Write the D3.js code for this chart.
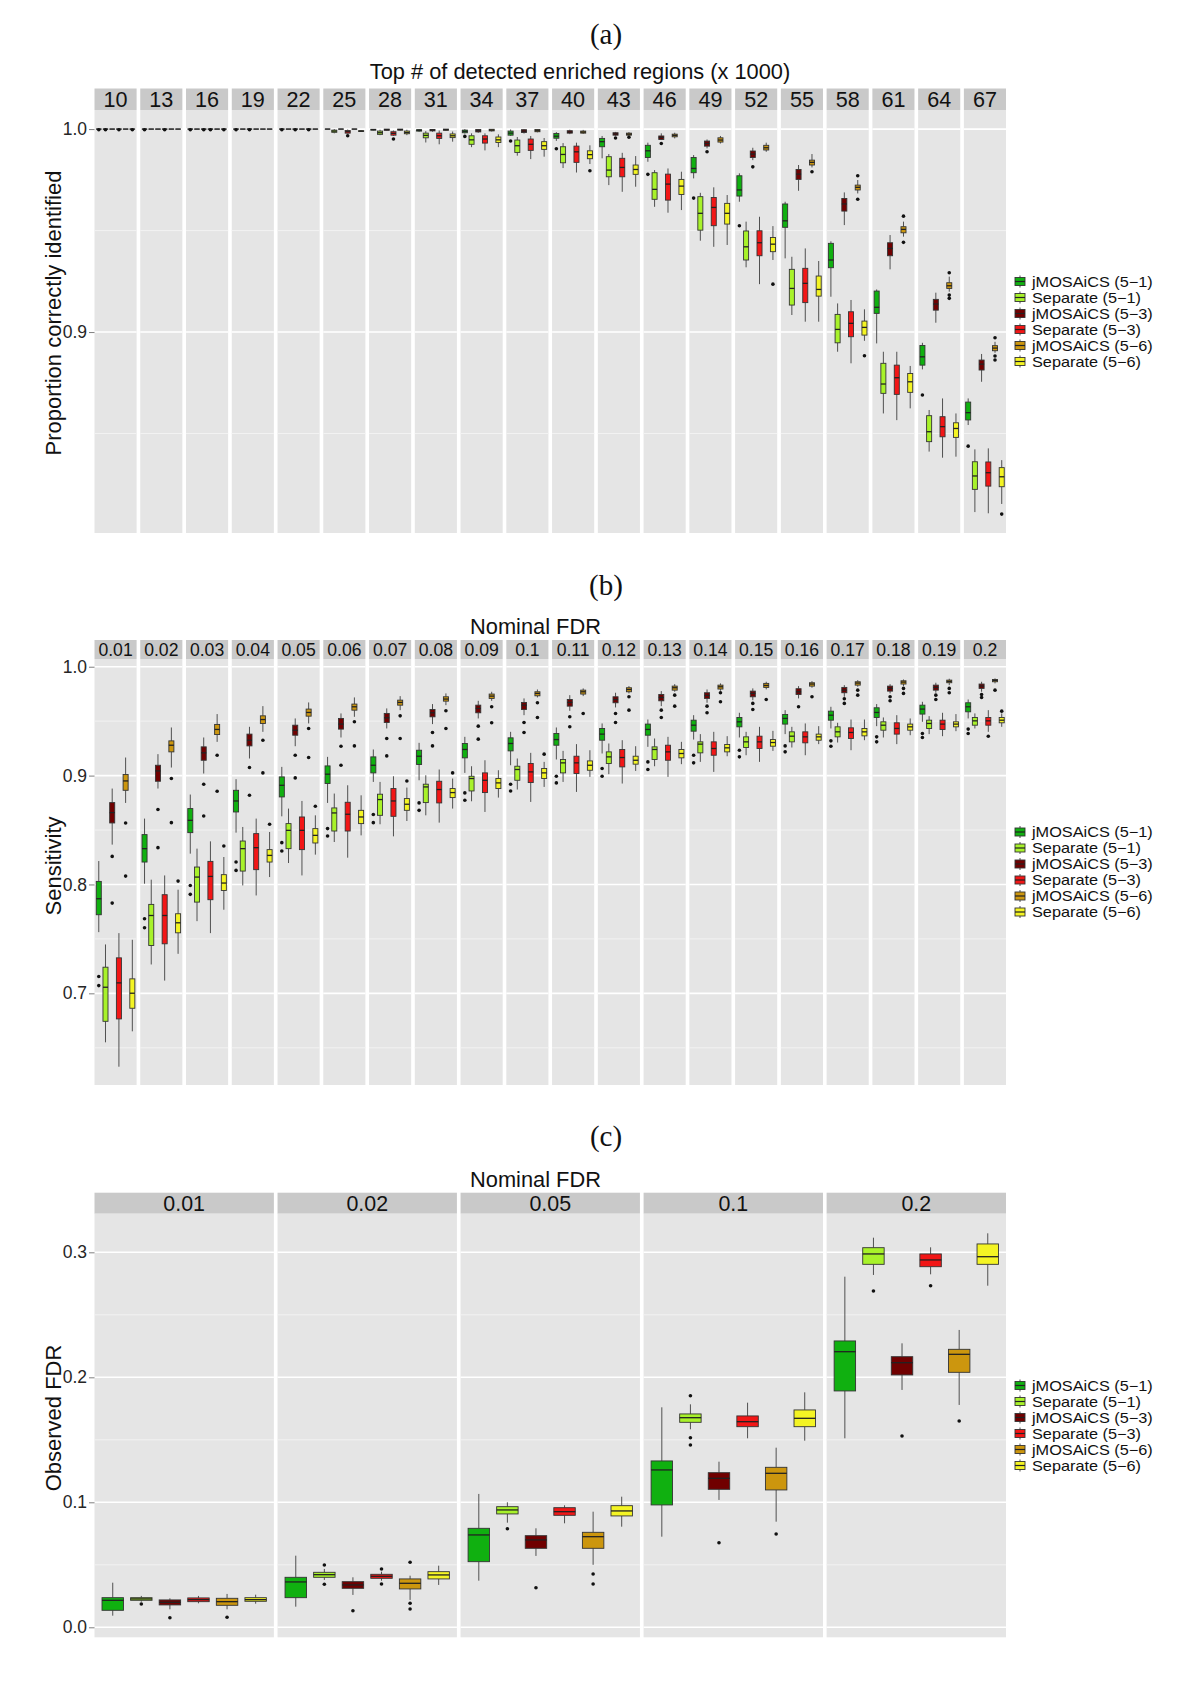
<!DOCTYPE html>
<html><head><meta charset="utf-8">
<script src="https://cdn.jsdelivr.net/npm/d3@7"></script>
<style>
body{margin:0;background:#fff}
svg text{font-family:"Liberation Sans",Arial,Helvetica,sans-serif}
</style>
</head><body>
<svg id="chart" width="1200" height="1705"></svg>
<script>
// ---------------- DATA ----------------
const seriesNames = ["jMOSAiCS (5\u22121)", "Separate (5\u22121)", "jMOSAiCS (5\u22123)", "Separate (5\u22123)", "jMOSAiCS (5\u22126)", "Separate (5\u22126)"];
const seriesColors = ["#10B010", "#A8F22A", "#700000", "#F21616", "#CC960E", "#F4F424"];

// each box: [lowerWhisker, q1, median, q3, upperWhisker, ...outliers]
const topFacets = ["10","13","16","19","22","25","28","31","34","37","40","43","46","49","52","55","58","61","64","67"];
const topA_jm51 = [[1,1,1,1,1,0.9997],[1,1,1,1,1,0.9997],[1,1,1,1,1,0.9997],[1,1,1,1,1,0.9997],[1,1,1,1,1,0.9997],[1,1,1,1,1],
  [0.9993,0.9995,0.9997,0.9999,1],[0.9986,0.9990,0.9994,0.9997,1],[0.9978,0.9982,0.9989,0.9995,1,0.9964],[0.9966,0.9970,0.9980,0.9990,0.9998,0.9941],
  [0.9942,0.9955,0.9965,0.9978,0.9985,0.9903],[0.9856,0.9913,0.9938,0.9954,0.9966],[0.9839,0.9860,0.9893,0.9920,0.9933,0.9777],[0.9757,0.9785,0.9806,0.9860,0.9872,0.9660],
  [0.9642,0.9670,0.9700,0.9770,0.9782,0.9524],[0.9363,0.9516,0.9548,0.9631,0.9642],[0.9174,0.9317,0.9355,0.9437,0.9447],[0.8944,0.9092,0.9122,0.9202,0.9210],
  [0.8816,0.8837,0.8878,0.8934,0.8947,0.8690],[0.8542,0.8567,0.8603,0.8655,0.8673,0.8438]];
const topA_sep51 = [[1,1,1,1,1,0.9997],[1,1,1,1,1],[1,1,1,1,1],[1,1,1,1,1],[1,1,1,1,1],[0.9979,0.9984,0.9990,0.9995,1],
  [0.9970,0.9974,0.9982,0.9990,0.9997],[0.9934,0.9957,0.9969,0.9980,0.9990],[0.9911,0.9925,0.9947,0.9967,0.9979],[0.9869,0.9885,0.9918,0.9946,0.9961],
  [0.9808,0.9834,0.9875,0.9913,0.9931],[0.9724,0.9765,0.9798,0.9864,0.9877],[0.9617,0.9654,0.9703,0.9785,0.9798],[0.9450,0.9502,0.9585,0.9667,0.9686],
  [0.9319,0.9355,0.9420,0.9498,0.9544],[0.9084,0.9133,0.9215,0.9309,0.9371],[0.8903,0.8947,0.9013,0.9087,0.9141],[0.8599,0.8698,0.8744,0.8846,0.8903],
  [0.8411,0.8460,0.8509,0.8588,0.8616],[0.8113,0.8225,0.8291,0.8361,0.8422]];
const topA_jm53 = [[1,1,1,1,1],[1,1,1,1,1],[1,1,1,1,1,0.9997],[1,1,1,1,1,0.9997],[1,1,1,1,1,0.9997],[1,1,1,1,1],
  [0.9992,0.9994,0.9997,1,1],[0.9987,0.9991,0.9995,0.9998,1],[0.9982,0.9986,0.9992,0.9998,1],[0.9978,0.9983,0.9990,0.9997,1],
  [0.9975,0.9980,0.9985,0.9992,0.9997],[0.9966,0.9970,0.9976,0.9982,0.9986,0.9956],[0.9946,0.9949,0.9959,0.9966,0.9979,0.9929],[0.9905,0.9916,0.9929,0.9941,0.9949,0.9888],
  [0.9847,0.9860,0.9877,0.9892,0.9908,0.9814],[0.9696,0.9752,0.9778,0.9801,0.9823],[0.9527,0.9596,0.9631,0.9658,0.9688],[0.9309,0.9376,0.9412,0.9440,0.9478],
  [0.9046,0.9108,0.9138,0.9161,0.9194],[0.8755,0.8813,0.8842,0.8862,0.8892]];
const topA_sep53 = [[1,1,1,1,1,0.9997],[1,1,1,1,1,0.9997],[1,1,1,1,1,0.9997],[1,1,1,1,1],[1,1,1,1,1],[0.9978,0.9980,0.9987,0.9993,0.9998,0.9967],
  [0.9966,0.9970,0.9979,0.9987,0.9993,0.9951],[0.9925,0.9954,0.9967,0.9980,0.9993],[0.9895,0.9931,0.9951,0.9967,0.9979],[0.9852,0.9895,0.9925,0.9951,0.9966],
  [0.9786,0.9836,0.9888,0.9916,0.9933],[0.9691,0.9765,0.9811,0.9856,0.9883],[0.9588,0.9650,0.9729,0.9778,0.9806],[0.9420,0.9524,0.9614,0.9663,0.9713],
  [0.9236,0.9376,0.9440,0.9499,0.9568],[0.9051,0.9145,0.9240,0.9314,0.9412],[0.8846,0.8977,0.9043,0.9100,0.9158],[0.8566,0.8693,0.8775,0.8837,0.8903],
  [0.8381,0.8484,0.8534,0.8583,0.8673],[0.8107,0.8241,0.8307,0.8360,0.8427]];
const topA_jm56 = [[1,1,1,1,1],[1,1,1,1,1],[1,1,1,1,1],[1,1,1,1,1],[1,1,1,1,1,0.9997],[1,1,1,1,1],
  [0.9993,0.9995,0.9997,1,1],[0.9991,0.9994,0.9997,1,1],[0.9988,0.9991,0.9995,0.9999,1],[0.9984,0.9987,0.9992,0.9998,1],
  [0.9976,0.9980,0.9985,0.9990,0.9996],[0.9966,0.9970,0.9975,0.9980,0.9985,0.9960],[0.9954,0.9962,0.9969,0.9975,0.9982],[0.9929,0.9936,0.9946,0.9957,0.9966],
  [0.9888,0.9897,0.9908,0.9920,0.9933],[0.9811,0.9823,0.9836,0.9847,0.9877,0.9790],[0.9683,0.9700,0.9713,0.9724,0.9749,0.9770,0.9654],[0.9470,0.9489,0.9506,0.9519,0.9544,0.9571,0.9442],
  [0.9199,0.9215,0.9228,0.9243,0.9273,0.9292,0.9182,0.9166],[0.8898,0.8908,0.8921,0.8933,0.8952,0.8972,0.8882,0.8862]];
const topA_sep56 = [[1,1,1,1,1,0.9997],[1,1,1,1,1],[1,1,1,1,1,0.9997],[1,1,1,1,1],[1,1,1,1,1],[0.9986,0.9988,0.9990,0.9992,0.9995],
  [0.9970,0.9977,0.9983,0.9990,0.9997],[0.9938,0.9958,0.9967,0.9976,0.9988],[0.9911,0.9934,0.9947,0.9961,0.9974],[0.9864,0.9900,0.9918,0.9938,0.9956],
  [0.9828,0.9854,0.9874,0.9893,0.9920,0.9795],[0.9716,0.9777,0.9801,0.9823,0.9867],[0.9601,0.9678,0.9719,0.9752,0.9790],[0.9429,0.9532,0.9585,0.9634,0.9675],
  [0.9355,0.9396,0.9433,0.9466,0.9522,0.9236],[0.9051,0.9177,0.9210,0.9276,0.9350],[0.8957,0.8985,0.9023,0.9054,0.9112,0.8883],[0.8624,0.8703,0.8755,0.8796,0.8833],
  [0.8386,0.8481,0.8525,0.8553,0.8599],[0.8153,0.8238,0.8287,0.8332,0.8369,0.8103]];

const fdrFacets = ["0.01","0.02","0.03","0.04","0.05","0.06","0.07","0.08","0.09","0.1","0.11","0.12","0.13","0.14","0.15","0.16","0.17","0.18","0.19","0.2"];
const sensB_jm51 = [[0.7562,0.7722,0.7869,0.8028,0.8215,0.7154,0.7071],[0.8007,0.8206,0.8329,0.8458,0.8605,0.7685,0.7602],[0.8283,0.8476,0.8589,0.8697,0.8826,0.7991,0.7909],
  [0.8476,0.8666,0.8767,0.8865,0.8967,0.8206,0.8129],[0.8626,0.8804,0.8911,0.8988,0.9080,0.8384,0.8307],[0.8749,0.8927,0.9013,0.9089,0.9172,0.8513,0.8445],
  [0.8942,0.9025,0.9095,0.9172,0.9240,0.8642,0.8568],[0.8957,0.9102,0.9178,0.9233,0.9301,0.8749,0.8681],[0.9025,0.9163,0.9240,0.9295,0.9356,0.8841,0.8773],
  [0.9095,0.9227,0.9295,0.9347,0.9402,0.8921,0.8859],[0.9148,0.9279,0.9331,0.9387,0.9442,0.8994,0.8933],[0.9203,0.9325,0.9381,0.9433,0.9479,0.9065,0.8994],
  [0.9264,0.9371,0.9424,0.9473,0.9515,0.9126,0.9056],[0.9331,0.9408,0.9463,0.9509,0.9555,0.9187,0.9117],[0.9350,0.9448,0.9494,0.9534,0.9577,0.9233,0.9172],
  [0.9381,0.9473,0.9525,0.9561,0.9601,0.9273,0.9218],[0.9433,0.9509,0.9555,0.9592,0.9632,0.9319,0.9270],[0.9454,0.9534,0.9580,0.9623,0.9657,0.9356,0.9310],
  [0.9494,0.9565,0.9611,0.9647,0.9678,0.9387,0.9350],[0.9525,0.9586,0.9632,0.9669,0.9699,0.9427,0.9387]];
const sensB_sep51 = [[0.6550,0.6743,0.7056,0.7240,0.7449],[0.7265,0.7439,0.7715,0.7817,0.8044],[0.7663,0.7838,0.8068,0.8160,0.8329],
  [0.7991,0.8123,0.8329,0.8399,0.8528],[0.8197,0.8329,0.8497,0.8559,0.8697],[0.8390,0.8491,0.8657,0.8703,0.8835],
  [0.8553,0.8635,0.8780,0.8829,0.8942],[0.8635,0.8752,0.8896,0.8921,0.9003],[0.8764,0.8859,0.8973,0.8994,0.9086],
  [0.8872,0.8957,0.9056,0.9086,0.9157],[0.8942,0.9025,0.9117,0.9148,0.9227],[0.9013,0.9111,0.9172,0.9218,0.9295],
  [0.9086,0.9148,0.9240,0.9264,0.9341],[0.9126,0.9209,0.9289,0.9310,0.9381],[0.9187,0.9258,0.9310,0.9356,0.9402],
  [0.9258,0.9310,0.9362,0.9402,0.9448],[0.9304,0.9356,0.9402,0.9448,0.9485],[0.9350,0.9417,0.9463,0.9494,0.9534],
  [0.9381,0.9433,0.9479,0.9509,0.9546],[0.9433,0.9463,0.9503,0.9534,0.9571]];
const sensB_jm53 = [[0.8366,0.8565,0.8660,0.8752,0.8881,0.8258,0.7829],[0.8881,0.8948,0.9043,0.9095,0.9197,0.8688,0.8338],[0.9019,0.9141,0.9209,0.9264,0.9350,0.8921,0.8629],
  [0.9157,0.9273,0.9325,0.9381,0.9448,0.9074,0.8819],[0.9270,0.9371,0.9417,0.9463,0.9525,0.9187,0.8979],[0.9350,0.9427,0.9473,0.9525,0.9571,0.9270,0.9095],
  [0.9433,0.9488,0.9531,0.9571,0.9617,0.9341,0.9181],[0.9473,0.9540,0.9577,0.9607,0.9657,0.9396,0.9273],[0.9525,0.9577,0.9617,0.9647,0.9687,0.9454,0.9335],
  [0.9555,0.9607,0.9647,0.9672,0.9709,0.9488,0.9396],[0.9595,0.9638,0.9672,0.9699,0.9739,0.9540,0.9448],[0.9626,0.9669,0.9699,0.9724,0.9761,0.9571,0.9488],
  [0.9638,0.9687,0.9718,0.9745,0.9776,0.9601,0.9534],[0.9669,0.9709,0.9736,0.9761,0.9791,0.9638,0.9577],[0.9693,0.9724,0.9755,0.9776,0.9801,0.9663,0.9607],
  [0.9709,0.9745,0.9770,0.9798,0.9822,0.9632],[0.9724,0.9761,0.9785,0.9810,0.9831,0.9706,0.9663],[0.9755,0.9776,0.9801,0.9822,0.9840,0.9724,0.9687],
  [0.9761,0.9785,0.9810,0.9831,0.9853,0.9739,0.9699],[0.9770,0.9801,0.9822,0.9841,0.9862,0.9745,0.9718]];
const sensB_sep53 = [[0.6326,0.6765,0.7096,0.7326,0.7553],[0.7117,0.7455,0.7715,0.7906,0.8083],[0.7553,0.7860,0.8074,0.8212,0.8396],
  [0.7899,0.8136,0.8338,0.8467,0.8605],[0.8083,0.8320,0.8497,0.8620,0.8767],[0.8246,0.8491,0.8645,0.8755,0.8911],
  [0.8442,0.8626,0.8767,0.8881,0.8994],[0.8568,0.8749,0.8872,0.8948,0.9056],[0.8666,0.8844,0.8957,0.9025,0.9141],
  [0.8758,0.8936,0.9034,0.9111,0.9209],[0.8850,0.9019,0.9117,0.9178,0.9289],[0.8927,0.9080,0.9166,0.9240,0.9325],
  [0.8988,0.9141,0.9218,0.9279,0.9356],[0.9034,0.9187,0.9249,0.9310,0.9402],[0.9126,0.9249,0.9310,0.9362,0.9448],
  [0.9187,0.9301,0.9356,0.9402,0.9479],[0.9233,0.9341,0.9396,0.9439,0.9515],[0.9289,0.9381,0.9433,0.9485,0.9555],
  [0.9362,0.9423,0.9473,0.9509,0.9577],[0.9402,0.9463,0.9503,0.9534,0.9601,0.9362]];
const sensB_jm56 = [[0.8749,0.8865,0.8951,0.9010,0.9166,0.8565,0.8077],[0.9074,0.9218,0.9279,0.9319,0.9442,0.8973,0.8568],[0.9310,0.9377,0.9424,0.9470,0.9565,0.9187,0.8856],
  [0.9402,0.9479,0.9515,0.9549,0.9638,0.9325,0.9025],[0.9479,0.9546,0.9580,0.9611,0.9672,0.9433,0.9166],[0.9540,0.9601,0.9632,0.9657,0.9718,0.9494,0.9273],
  [0.9601,0.9647,0.9672,0.9693,0.9730,0.9549,0.9341],[0.9647,0.9684,0.9703,0.9724,0.9755,0.9595,0.9433],[0.9687,0.9709,0.9730,0.9749,0.9770,0.9632,0.9485],
  [0.9718,0.9733,0.9755,0.9770,0.9791,0.9669,0.9534],[0.9730,0.9749,0.9770,0.9785,0.9801,0.9571],[0.9755,0.9770,0.9791,0.9807,0.9822,0.9724,0.9601],
  [0.9770,0.9785,0.9807,0.9822,0.9840,0.9739,0.9638],[0.9779,0.9795,0.9816,0.9831,0.9847,0.9761,0.9678],[0.9792,0.9810,0.9828,0.9847,0.9862,0.9699],
  [0.9807,0.9822,0.9841,0.9853,0.9868,0.9724],[0.9816,0.9831,0.9850,0.9862,0.9877,0.9785,0.9739],[0.9822,0.9841,0.9859,0.9871,0.9883,0.9801,0.9755],
  [0.9831,0.9853,0.9865,0.9877,0.9890,0.9801,0.9761],[0.9847,0.9862,0.9874,0.9883,0.9893,0.9785]];
const sensB_sep56 = [[0.6651,0.6863,0.7001,0.7133,0.7492],[0.7363,0.7556,0.7648,0.7731,0.7952,0.8031],[0.7768,0.7945,0.8013,0.8090,0.8252,0.8353],
  [0.8068,0.8206,0.8267,0.8320,0.8482,0.8553],[0.8274,0.8381,0.8451,0.8513,0.8635,0.8718],[0.8451,0.8559,0.8620,0.8681,0.8819],
  [0.8583,0.8681,0.8737,0.8789,0.8890,0.8951],[0.8697,0.8798,0.8844,0.8881,0.8973,0.9025],[0.8798,0.8881,0.8933,0.8973,0.9049],
  [0.8896,0.8973,0.9025,0.9065,0.9126,0.9197],[0.8988,0.9049,0.9095,0.9135,0.9233],[0.9043,0.9105,0.9141,0.9178,0.9270],
  [0.9105,0.9163,0.9203,0.9240,0.9310],[0.9178,0.9218,0.9255,0.9286,0.9362],[0.9227,0.9270,0.9304,0.9331,0.9411],
  [0.9289,0.9325,0.9356,0.9381,0.9454],[0.9325,0.9365,0.9402,0.9433,0.9515],[0.9371,0.9417,0.9448,0.9473,0.9525],
  [0.9408,0.9448,0.9473,0.9494,0.9565],[0.9448,0.9485,0.9509,0.9534,0.9571,0.9592]];

const nominalFacets = ["0.01","0.02","0.05","0.1","0.2"];
const fdrC_jm51 = [[0.0093,0.0136,0.0216,0.0237,0.0357],[0.0165,0.0237,0.0363,0.0400,0.0573],[0.0373,0.0525,0.0739,0.0792,0.1067],[0.0725,0.0979,0.1259,0.1331,0.1760],[0.1512,0.1891,0.2205,0.2291,0.2805]];
const fdrC_sep51 = [[0.0205,0.0216,0.0227,0.0237,0.0251,0.0187],[0.0379,0.0400,0.0421,0.0440,0.0467,0.0499,0.0344],[0.0837,0.0907,0.0939,0.0965,0.1000,0.0789],[0.1584,0.1640,0.1677,0.1707,0.1784,0.1853,0.1517,0.1459],[0.2819,0.2904,0.2987,0.3037,0.3117,0.2691]];
const fdrC_jm53 = [[0.0144,0.0179,0.0200,0.0219,0.0232,0.0077],[0.0259,0.0312,0.0339,0.0365,0.0400,0.0133],[0.0571,0.0632,0.0699,0.0733,0.0792,0.0317],[0.1019,0.1104,0.1192,0.1237,0.1325,0.0677],[0.1899,0.2019,0.2117,0.2165,0.2272,0.1531]];
const fdrC_sep53 = [[0.0192,0.0205,0.0221,0.0235,0.0251],[0.0373,0.0392,0.0408,0.0424,0.0445,0.0467,0.0347],[0.0832,0.0896,0.0925,0.0957,0.0976],[0.1512,0.1605,0.1645,0.1691,0.1797],[0.2824,0.2885,0.2939,0.2987,0.3040,0.2733]];
const fdrC_jm56 = [[0.0144,0.0176,0.0205,0.0232,0.0267,0.0080],[0.0219,0.0307,0.0352,0.0387,0.0413,0.0520,0.0192,0.0147],[0.0500,0.0632,0.0725,0.0760,0.0925,0.0427,0.0347],[0.0845,0.1099,0.1232,0.1280,0.1437,0.0747],[0.1779,0.2040,0.2184,0.2224,0.2379,0.1651]];
const fdrC_sep56 = [[0.0189,0.0208,0.0221,0.0237,0.0261],[0.0339,0.0387,0.0419,0.0445,0.0493],[0.0805,0.0891,0.0931,0.0973,0.1045],[0.1493,0.1605,0.1672,0.1739,0.1880],[0.2733,0.2904,0.2965,0.3067,0.3152]];

const ticksA = [0.9, 1.0], minorA = [0.85, 0.95];
const ticksB = [0.7, 0.8, 0.9, 1.0], minorB = [0.65, 0.75, 0.85, 0.95];
const ticksC = [0.0, 0.1, 0.2, 0.3], minorC = [0.05, 0.15, 0.25];

// ---------------- LAYOUT ----------------
const svg = d3.select("#chart");
const PL = 94.5, PR = 1006, GAP = 3.65;

const panels = [
  {tag:"(a)", tagY:44, title:"Top # of detected enriched regions (x 1000)", titleX:580, titleY:78.5,
   stripTop:88.5, top:110, bottom:533, domain:[0.801,1.0094], stripFont:21.6,
   yTitle:"Proportion correctly identified", yTitleY:313,
   facets:topFacets, series:[topA_jm51,topA_sep51,topA_jm53,topA_sep53,topA_jm56,topA_sep56], ticks:ticksA, minor:minorA},
  {tag:"(b)", tagY:595, title:"Nominal FDR", titleX:535.5, titleY:633.5,
   stripTop:640, top:659, bottom:1085, domain:[0.6158,1.0071], stripFont:17.6,
   yTitle:"Sensitivity", yTitleY:866,
   facets:fdrFacets, series:[sensB_jm51,sensB_sep51,sensB_jm53,sensB_sep53,sensB_jm56,sensB_sep56], ticks:ticksB, minor:minorB},
  {tag:"(c)", tagY:1146, title:"Nominal FDR", titleX:535.5, titleY:1186.5,
   stripTop:1192.7, top:1213.7, bottom:1637.3, domain:[-0.008,0.3309], stripFont:21.4,
   yTitle:"Observed FDR", yTitleY:1418,
   facets:nominalFacets, series:[fdrC_jm51,fdrC_sep51,fdrC_jm53,fdrC_sep53,fdrC_jm56,fdrC_sep56], ticks:ticksC, minor:minorC}
];

panels.forEach(P => {
  const g = svg.append("g");
  const n = P.facets.length;
  const fx = d3.scaleBand().domain(P.facets).range([PL, PR]).paddingInner(GAP*n/(PR-PL+GAP)).paddingOuter(0);
  const w = fx.bandwidth();
  const sx = d3.scaleBand().domain(d3.range(6)).range([0.022*w, 0.978*w]).paddingInner(0.25).paddingOuter(0.125);
  const bw = sx.bandwidth();
  const y = d3.scaleLinear().domain(P.domain).range([P.bottom, P.top]);

  g.append("text").attr("x", 606).attr("y", P.tagY).attr("text-anchor","middle")
    .style("font-family",'"Liberation Serif","DejaVu Serif",serif').style("font-size","29px").attr("fill","#111").text(P.tag);
  g.append("text").attr("x", P.titleX).attr("y", P.titleY).attr("text-anchor","middle")
    .style("font-size","21.8px").attr("fill","#111").text(P.title);
  g.append("text").attr("transform", `translate(53.5,${P.yTitleY}) rotate(-90)`).attr("text-anchor","middle")
    .attr("dy","0.35em").style("font-size","22px").attr("fill","#111").text(P.yTitle);

  const facetG = g.selectAll("g.facet").data(P.facets).join("g").attr("class","facet")
    .attr("transform", d => `translate(${fx(d)},0)`);
  facetG.append("rect").attr("x",0).attr("y",P.stripTop).attr("width",w).attr("height",P.top-P.stripTop).attr("fill","#C9C9C9");
  facetG.append("text").attr("x",w/2).attr("y",(P.stripTop+P.top)/2 + 0.36*P.stripFont).attr("text-anchor","middle")
    .style("font-size",P.stripFont+"px").attr("fill","#111").text(d=>d);
  facetG.append("rect").attr("x",0).attr("y",P.top).attr("width",w).attr("height",P.bottom-P.top).attr("fill","#E5E5E5");
  facetG.selectAll("line.minor").data(P.minor).join("line").attr("class","minor")
    .attr("x1",0).attr("x2",w).attr("y1",d=>y(d)).attr("y2",d=>y(d)).attr("stroke","#F2F2F2").attr("stroke-width",1);
  facetG.selectAll("line.major").data(P.ticks).join("line").attr("class","major")
    .attr("x1",0).attr("x2",w).attr("y1",d=>y(d)).attr("y2",d=>y(d)).attr("stroke","#FFFFFF").attr("stroke-width",1.6);

  facetG.each(function(facet, fi){
    const fg = d3.select(this);
    const boxes = P.series.map((arr, si) => ({si, d: arr[fi]}));
    const bg = fg.selectAll("g.box").data(boxes).join("g").attr("class","box")
      .attr("transform", b => `translate(${sx(b.si)+bw/2},0)`);
    bg.append("line").attr("x1",0).attr("x2",0).attr("y1",b=>y(b.d[4])).attr("y2",b=>y(b.d[3])).attr("stroke","#505050").attr("stroke-width",1);
    bg.append("line").attr("x1",0).attr("x2",0).attr("y1",b=>y(b.d[1])).attr("y2",b=>y(b.d[0])).attr("stroke","#505050").attr("stroke-width",1);
    bg.append("rect").attr("x",-bw/2).attr("width",bw).attr("y",b=>y(b.d[3])).attr("height",b=>Math.max(0.01,y(b.d[1])-y(b.d[3])))
      .attr("fill",b=>seriesColors[b.si]).attr("stroke","#333").attr("stroke-width",0.9);
    bg.append("line").attr("x1",-bw/2).attr("x2",bw/2).attr("y1",b=>y(b.d[2])).attr("y2",b=>y(b.d[2])).attr("stroke","#222").attr("stroke-width",1.3);
    bg.selectAll("circle").data(b=>b.d.slice(5)).join("circle").attr("cx",0).attr("cy",v=>y(v)).attr("r",1.8).attr("fill","#111");
  });

  const ax = g.append("g").attr("transform",`translate(${PL},0)`)
    .call(d3.axisLeft(y).tickValues(P.ticks).tickFormat(d3.format(".1f")).tickSize(5.5).tickPadding(2));
  ax.select(".domain").remove();
  ax.selectAll(".tick line").attr("stroke","#7F7F7F");
  ax.selectAll(".tick text").style("font-size","17.5px").attr("fill","#262626").style("font-family",'"Liberation Sans",Arial,sans-serif');

  const lc = (P.top+P.bottom)/2;
  const LS = 16;
  const lg = g.append("g");
  const items = lg.selectAll("g.li").data(seriesNames).join("g").attr("class","li")
    .attr("transform",(d,i)=>`translate(1020,${lc + (i-2.5)*LS})`);
  items.append("line").attr("x1",0).attr("x2",0).attr("y1",-6).attr("y2",6).attr("stroke","#505050").attr("stroke-width",1);
  items.append("rect").attr("x",-5).attr("y",-4).attr("width",10).attr("height",8)
    .attr("fill",(d,i)=>seriesColors[i]).attr("stroke","#333").attr("stroke-width",0.9);
  items.append("line").attr("x1",-5).attr("x2",5).attr("y1",0).attr("y2",0).attr("stroke","#222").attr("stroke-width",1.2);
  items.append("text").attr("transform","translate(12,5) scale(1.18,1)").style("font-size","13.8px").attr("fill","#111").text(d=>d);
});
</script>
</body></html>
